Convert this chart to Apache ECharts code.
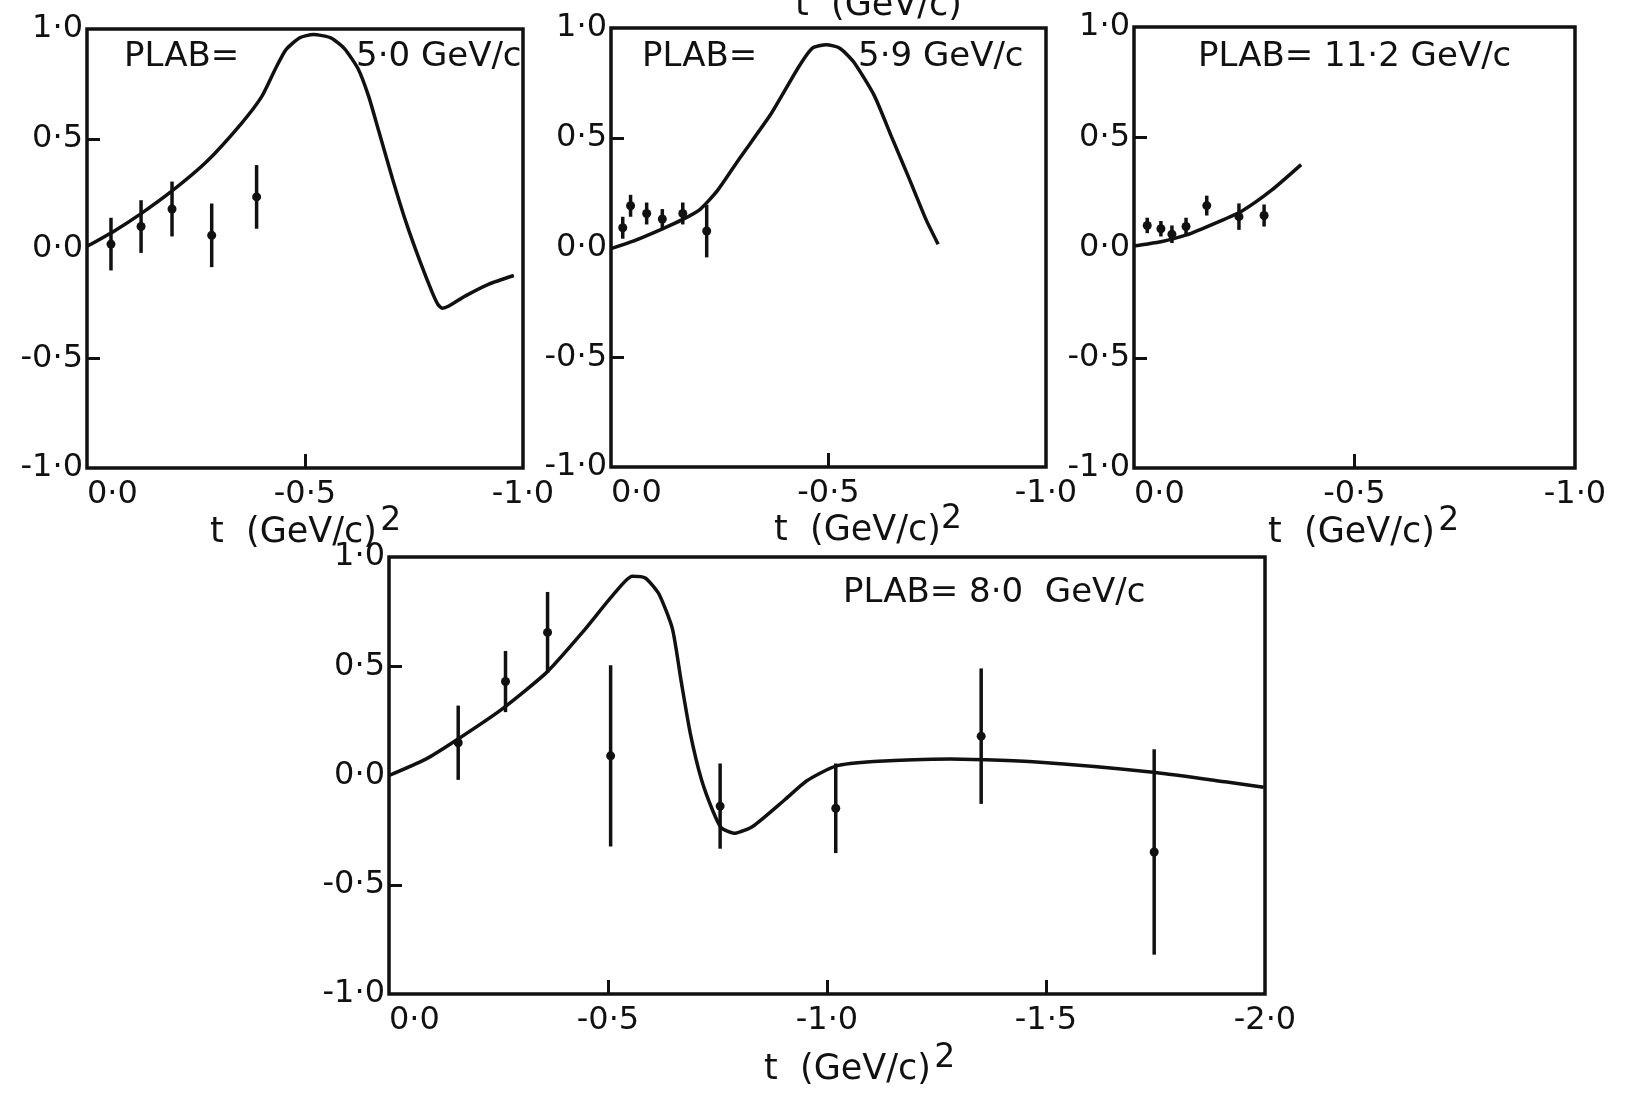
<!DOCTYPE html>
<html>
<head>
<meta charset="utf-8">
<script src="https://cdn.jsdelivr.net/npm/echarts@6/dist/echarts.min.js"></script>
<style>
  html, body { margin: 0; padding: 0; background: #fff; }
  #chart { width: 1628px; height: 1094px; }
</style>
</head>
<body>
<div id="chart"></div>
<script>
// Tick values and their printed labels
const yTickValues = [-1, -0.5, 0, 0.5, 1];
const yTickText = ['-1·0', '-0·5', '0·0', '0·5', '1·0'];
const xTickValues = [0, -0.5, -1, -1.5, -2];
const xTickText = ['0·0', '-0·5', '-1·0', '-1·5', '-2·0'];

// Beam momentum of each panel
const plabText = ['5·0 GeV/c', '5·9 GeV/c', '11·2 GeV/c', '8·0  GeV/c'];

// PLAB = 5.0 GeV/c : model curve
const curve50T = [0, -0.061, -0.124, -0.195, -0.274, -0.353, -0.401, -0.432, -0.456, -0.488, -0.519, -0.559, -0.590, -0.622, -0.646, -0.669, -0.701, -0.733, -0.764, -0.792, -0.805, -0.815, -0.830, -0.867, -0.922, -0.979];
const curve50V = [0.01, 0.078, 0.159, 0.262, 0.395, 0.567, 0.693, 0.818, 0.905, 0.960, 0.975, 0.960, 0.912, 0.818, 0.693, 0.536, 0.316, 0.112, -0.060, -0.201, -0.255, -0.272, -0.262, -0.217, -0.162, -0.123];
// PLAB = 5.0 GeV/c : measurements
const data50T = [-0.055, -0.124, -0.195, -0.286, -0.389];
const data50V = [0.02, 0.10, 0.18, 0.06, 0.235];
const data50E = [0.12, 0.12, 0.125, 0.145, 0.145];

// PLAB = 5.9 GeV/c
const curve59T = [0, -0.051, -0.117, -0.165, -0.205, -0.245, -0.297, -0.368, -0.431, -0.463, -0.495, -0.526, -0.558, -0.605, -0.645, -0.685, -0.724, -0.752];
const curve59V = [-0.005, 0.029, 0.084, 0.128, 0.174, 0.26, 0.41, 0.609, 0.821, 0.908, 0.924, 0.908, 0.845, 0.693, 0.504, 0.316, 0.128, 0.015];
const data59T = [-0.027, -0.045, -0.082, -0.118, -0.165, -0.22];
const data59V = [0.09, 0.19, 0.155, 0.13, 0.155, 0.075];
const data59E = [0.05, 0.05, 0.05, 0.045, 0.05, 0.12];

// PLAB = 11.2 GeV/c
const curve112T = [0, -0.061, -0.119, -0.186, -0.245, -0.312, -0.379];
const curve112V = [0.007, 0.026, 0.057, 0.112, 0.166, 0.26, 0.376];
const data112T = [-0.030, -0.061, -0.086, -0.118, -0.165, -0.238, -0.295];
const data112V = [0.10, 0.085, 0.06, 0.095, 0.19, 0.14, 0.145];
const data112E = [0.035, 0.035, 0.04, 0.04, 0.045, 0.06, 0.05];

// PLAB = 8.0 GeV/c
const curve80T = [0, -0.084, -0.156, -0.258, -0.36, -0.442, -0.514, -0.555, -0.585, -0.616, -0.647, -0.667, -0.688, -0.713, -0.739, -0.759, -0.79, -0.831, -0.903, -0.954, -1.02, -1.107, -1.281, -1.478, -1.75, -1.913, -1.997];
const curve80V = [0.0, 0.075, 0.165, 0.304, 0.472, 0.656, 0.832, 0.912, 0.904, 0.832, 0.672, 0.432, 0.192, -0.016, -0.16, -0.24, -0.264, -0.232, -0.112, -0.024, 0.043, 0.064, 0.076, 0.062, 0.014, -0.030, -0.054];
const data80T = [-0.158, -0.266, -0.362, -0.506, -0.756, -1.02, -1.352, -1.747];
const data80V = [0.15, 0.43, 0.655, 0.09, -0.14, -0.15, 0.18, -0.35];
const data80E = [0.17, 0.14, 0.185, 0.415, 0.195, 0.205, 0.31, 0.47];

const INK = '#111';
const FONT = 'DejaVu Sans';
const TICK_FONT = 32;

function lookup(values, texts, v) {
  const i = values.findIndex(x => Math.abs(x - v) < 1e-9);
  return i >= 0 ? texts[i] : '';
}
function zip2(a, b) { return a.map((x, i) => [x, b[i]]); }
function zip3(a, b, c) { return a.map((x, i) => [x, b[i], c[i]]); }

const grids = [
  { left: 87, top: 29, width: 436, height: 439 },
  { left: 611, top: 28, width: 435, height: 439 },
  { left: 1134, top: 27, width: 441, height: 441 },
  { left: 389, top: 557, width: 876, height: 437 }
].map(g => Object.assign({ show: true, borderColor: INK, borderWidth: 3.5, backgroundColor: 'transparent', containLabel: false }, g));

function xAxisFor(gridIndex, min, tickVals) {
  return {
    type: 'value', gridIndex, min, max: 0, interval: 0.5, inverse: true, position: 'bottom',
    axisLine: { show: false, onZero: false }, splitLine: { show: false },
    axisTick: { show: true, inside: true, length: 14, customValues: tickVals, lineStyle: { color: INK, width: 3 } },
    axisLabel: {
      color: INK, fontSize: TICK_FONT, fontFamily: FONT, margin: 11, alignMaxLabel: 'left',
      formatter: v => lookup(xTickValues, xTickText, v)
    }
  };
}
function yAxisFor(gridIndex) {
  return {
    type: 'value', gridIndex, min: -1, max: 1, interval: 0.5, position: 'left',
    axisLine: { show: false, onZero: false }, splitLine: { show: false },
    axisTick: { show: true, inside: true, length: 13, customValues: [-0.5, 0.5], lineStyle: { color: INK, width: 3 } },
    axisLabel: {
      color: INK, fontSize: TICK_FONT, fontFamily: FONT, margin: 4,
      formatter: v => lookup(yTickValues, yTickText, v)
    }
  };
}

function errorBarItem(params, api) {
  const t = api.value(0), v = api.value(1), e = api.value(2);
  const hi = api.coord([t, v + e]);
  const lo = api.coord([t, v - e]);
  const c = api.coord([t, v]);
  return {
    type: 'group',
    children: [
      { type: 'line', shape: { x1: hi[0], y1: hi[1], x2: lo[0], y2: lo[1] }, style: { stroke: INK, lineWidth: 3.5 } },
      { type: 'circle', shape: { cx: c[0], cy: c[1], r: 4.5 }, style: { fill: INK } }
    ]
  };
}

function curveSeries(idx, t, v) {
  return {
    type: 'line', xAxisIndex: idx, yAxisIndex: idx, data: zip2(t, v),
    showSymbol: false, smooth: 0.2, silent: true,
    lineStyle: { color: INK, width: 3.5 }
  };
}
function pointSeries(idx, t, v, e) {
  return {
    type: 'custom', xAxisIndex: idx, yAxisIndex: idx, data: zip3(t, v, e),
    encode: { x: 0, y: 1 }, renderItem: errorBarItem, silent: true
  };
}

const richName = {
  a: { fontSize: 35, fontFamily: FONT, fill: INK, verticalAlign: 'bottom' },
  s: { fontSize: 33, fontFamily: FONT, fill: INK, verticalAlign: 'bottom', padding: [0, 0, 12, 0] }
};
function axisName(x, y, gap) {
  return {
    type: 'text', left: x, top: y,
    style: { text: '{a|t  (GeV/c)}' + gap + '{s|2}', rich: richName, fill: INK }
  };
}
function plab(x, y, text) {
  return {
    type: 'text', left: x, top: y,
    style: { text, font: '34px "' + FONT + '"', fill: INK }
  };
}

const option = {
  backgroundColor: '#fff',
  animation: false,
  grid: grids,
  xAxis: [xAxisFor(0, -1, [-0.5]), xAxisFor(1, -1, [-0.5]), xAxisFor(2, -1, [-0.5]), xAxisFor(3, -2, [-0.5, -1, -1.5])],
  yAxis: [yAxisFor(0), yAxisFor(1), yAxisFor(2), yAxisFor(3)],
  series: [
    curveSeries(0, curve50T, curve50V), pointSeries(0, data50T, data50V, data50E),
    curveSeries(1, curve59T, curve59V), pointSeries(1, data59T, data59V, data59E),
    curveSeries(2, curve112T, curve112V), pointSeries(2, data112T, data112V, data112E),
    curveSeries(3, curve80T, curve80V), pointSeries(3, data80T, data80V, data80E)
  ],
  graphic: [
    plab(124, 40, 'PLAB='), plab(356, 40, plabText[0]),
    plab(642, 40, 'PLAB='), plab(858, 40, plabText[1]),
    plab(1198, 40, 'PLAB= ' + plabText[2]),
    plab(843, 576, 'PLAB= ' + plabText[3]),
    axisName(210, 505, ' '),
    axisName(774, 503, ''),
    axisName(1268, 505, ' '),
    axisName(764, 1042, ' '),
    { type: 'text', left: 795, top: -12, style: { text: 't  (GeV/c)', font: '35px "' + FONT + '"', fill: INK } }
  ]
};

const chart = echarts.init(document.getElementById('chart'), null, { renderer: 'canvas' });
chart.setOption(option);
</script>
</body>
</html>
